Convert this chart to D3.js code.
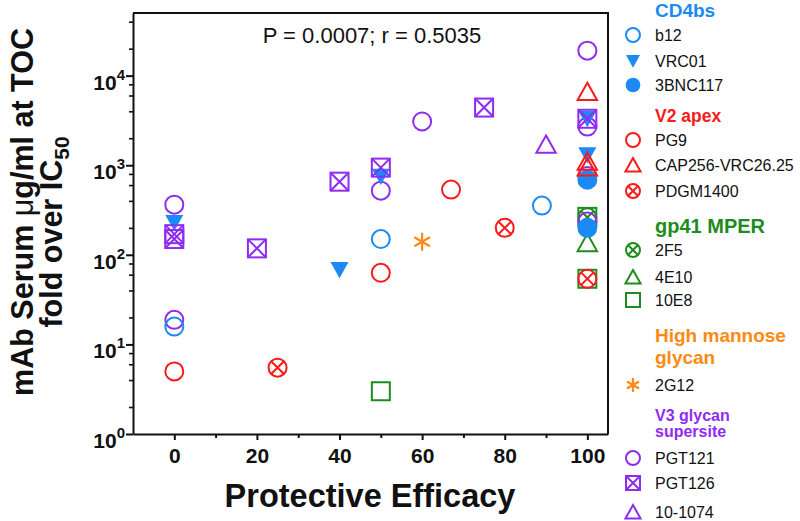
<!DOCTYPE html>
<html>
<head>
<meta charset="utf-8">
<script src="https://cdn.jsdelivr.net/npm/d3@7"></script>
<style>
  html, body { margin: 0; padding: 0; background: #fff; }
  svg { display: block; font-family: "Liberation Sans", Arial, Helvetica, sans-serif; }
</style>
</head>
<body>
<svg id="chart" width="800" height="521"></svg>
<script>
// ---------- DATA ----------
const xTicks = [0, 20, 40, 60, 80, 100];
const xMinorTicks = [10, 30, 50, 70, 90];
const yTicks = [1, 10, 100, 1000, 10000];
const yMinorTicks = [2,4,6,8,20,40,60,80,200,400,600,800,2000,4000,6000,8000,20000,40000];

// [protective efficacy %, fold over IC50]
const b12      = [[0, 15.8], [50, 150], [89, 354]];
const VRC01    = [[0, 229], [40, 68], [50, 750], [100, 3300], [100, 1300]];
const BNC117   = [[100, 690], [100, 200]];
const PG9      = [[0, 5.0], [50, 63], [67, 535]];
const CAP256   = [[100, 6600], [100, 1100], [100, 950]];
const PDGM1400 = [[25, 5.5], [80, 200], [100, 54]];
const F5       = [[100, 262]];
const E10      = [[100, 136]];
const E8       = [[50, 3.0], [100, 265], [100, 54]];
const G12      = [[60, 140]];
const PGT121   = [[0, 363], [0, 18.8], [50, 520], [60, 3080], [100, 19000], [100, 2700], [100, 760], [100, 235]];
const PGT126   = [[0, 170], [0, 150], [20, 118], [40, 655], [50, 940], [75, 4400], [100, 3300]];
const A101074  = [[90, 1700]];

const groupNames = ["CD4bs", "V2 apex", "gp41 MPER", "High mannose glycan", "V3 glycan supersite"];
const antibodyNames = ["b12", "VRC01", "3BNC117", "PG9", "CAP256-VRC26.25", "PDGM1400",
                       "2F5", "4E10", "10E8", "2G12", "PGT121", "PGT126", "10-1074"];
const antibodyGroups = [0, 0, 0, 1, 1, 1, 2, 2, 2, 3, 4, 4, 4];
const antibodyData = [b12, VRC01, BNC117, PG9, CAP256, PDGM1400, F5, E10, E8, G12, PGT121, PGT126, A101074];

// ---------- STYLES ----------
const groupColors = ["#1b8af5", "#fa1a1a", "#1d8c1d", "#ff8a12", "#8f2bf2"];
const antibodyShapes = ["circle", "triDown", "dot", "circle", "triUp", "circleX",
                        "circleX", "triUp", "square", "asterisk", "circle", "squareX", "triUp"];
const drawOrder = [8, 6, 7, 10, 1, 2, 0, 11, 4, 3, 5, 9, 12];

const svg = d3.select("#chart");
const plot = { left: 133, right: 608, top: 13, bottom: 434 };

const x = d3.scaleLinear().domain([-10, 105]).range([plot.left, plot.right]);
const y = d3.scaleLog().domain([1, 50000]).range([plot.bottom, plot.top]);

function drawMarker(g, shape, s, color) {
  const sw = 2;
  if (shape === "circle") {
    g.append("circle").attr("r", s).attr("fill", "none").attr("stroke", color).attr("stroke-width", sw);
  } else if (shape === "dot") {
    g.append("circle").attr("r", s * 1.05).attr("fill", color);
  } else if (shape === "circleX") {
    g.append("circle").attr("r", s).attr("fill", "none").attr("stroke", color).attr("stroke-width", sw);
    const k = s * 0.68;
    g.append("path").attr("d", `M${-k},${-k}L${k},${k}M${-k},${k}L${k},${-k}`)
      .attr("stroke", color).attr("stroke-width", sw).attr("fill", "none");
  } else if (shape === "square") {
    g.append("rect").attr("x", -s).attr("y", -s).attr("width", 2 * s).attr("height", 2 * s)
      .attr("fill", "none").attr("stroke", color).attr("stroke-width", sw);
  } else if (shape === "squareX") {
    g.append("rect").attr("x", -s).attr("y", -s).attr("width", 2 * s).attr("height", 2 * s)
      .attr("fill", "none").attr("stroke", color).attr("stroke-width", sw);
    g.append("path").attr("d", `M${-s},${-s}L${s},${s}M${-s},${s}L${s},${-s}`)
      .attr("stroke", color).attr("stroke-width", sw).attr("fill", "none");
  } else if (shape === "triUp") {
    const w = s * 1.08, h = s;
    g.append("path").attr("d", `M0,${-h}L${w},${h * 0.92}L${-w},${h * 0.92}Z`)
      .attr("fill", "none").attr("stroke", color).attr("stroke-width", sw).attr("stroke-linejoin", "miter");
  } else if (shape === "triDown") {
    const w = s * 1.0, h = s * 0.95;
    g.append("path").attr("d", `M${-w},${-h * 0.9}L${w},${-h * 0.9}L0,${h}Z`).attr("fill", color);
  } else if (shape === "asterisk") {
    const r = s * 1.0;
    let d = "";
    [90, 30, 150].forEach(a => {
      const rad = a * Math.PI / 180;
      const dx = r * Math.cos(rad), dy = r * Math.sin(rad);
      d += `M${-dx},${-dy}L${dx},${dy}`;
    });
    g.append("path").attr("d", d).attr("stroke", color).attr("stroke-width", 2.2).attr("fill", "none");
  }
}

// ---------- AXES ----------
const axisG = svg.append("g");

axisG.append("path")
  .attr("d", `M${plot.left},${plot.top}H${plot.right}V${plot.bottom}`)
  .attr("fill", "none").attr("stroke", "#111").attr("stroke-width", 2);

// X axis
const xAxis = d3.axisBottom(x).tickValues(xTicks).tickSize(6).tickSizeOuter(0).tickPadding(8);
const gx = axisG.append("g").attr("transform", `translate(0,${plot.bottom})`).call(xAxis);
gx.select(".domain").attr("stroke", "#111").attr("stroke-width", 2);
gx.selectAll(".tick line").attr("stroke", "#111").attr("stroke-width", 2);
gx.selectAll(".tick text").attr("font-size", 21).attr("font-weight", "bold").attr("fill", "#111")
  .attr("font-family", "Liberation Sans, Arial, sans-serif");
const gxm = axisG.append("g").attr("transform", `translate(0,${plot.bottom})`)
  .call(d3.axisBottom(x).tickValues(xMinorTicks).tickSize(4).tickFormat(() => ""));
gxm.select(".domain").remove();
gxm.selectAll(".tick line").attr("stroke", "#111").attr("stroke-width", 2);

// Y axis
const yAxis = d3.axisLeft(y).tickValues(yTicks).tickSize(7).tickSizeOuter(0).tickPadding(1).tickFormat(() => "");
const gy = axisG.append("g").attr("transform", `translate(${plot.left},0)`).call(yAxis);
gy.select(".domain").attr("stroke", "#111").attr("stroke-width", 2);
gy.selectAll(".tick line").attr("stroke", "#111").attr("stroke-width", 2);
gy.selectAll(".tick text").each(function(d) {
  const t = d3.select(this);
  t.attr("dy", null).attr("y", 13.5).attr("font-weight", "bold").attr("fill", "#111")
   .attr("font-family", "Liberation Sans, Arial, sans-serif");
  t.append("tspan").attr("font-size", 21).text("10");
  t.append("tspan").attr("font-size", 15).attr("dy", -10).text(Math.round(Math.log10(d)));
});
const gym = axisG.append("g").attr("transform", `translate(${plot.left},0)`)
  .call(d3.axisLeft(y).tickValues(yMinorTicks).tickSize(4).tickFormat(() => ""));
gym.select(".domain").remove();
gym.selectAll(".tick line").attr("stroke", "#111").attr("stroke-width", 1.6);

// Axis titles
svg.append("text")
  .attr("x", 370).attr("y", 507)
  .attr("text-anchor", "middle").attr("font-size", 32.5).attr("font-weight", "bold").attr("fill", "#111")
  .text("Protective Efficacy");

const yl = svg.append("g").attr("transform", "translate(33,212) rotate(-90)");
const yl1 = yl.append("text").attr("text-anchor", "middle").attr("font-size", 30.5)
  .attr("font-weight", "bold").attr("fill", "#111");
yl1.append("tspan").text("mAb Serum ");
yl1.append("tspan").attr("font-weight", "normal").text("μ");
yl1.append("tspan").text("g/ml at TOC");
const yl2 = svg.append("g").attr("transform", "translate(62,232) rotate(-90)")
  .append("text").attr("text-anchor", "middle").attr("font-size", 30.5)
  .attr("font-weight", "bold").attr("fill", "#111");
yl2.append("tspan").text("fold over IC");
yl2.append("tspan").attr("font-size", 21).attr("dy", 7).text("50");

// Stat text
svg.append("text").attr("x", 372).attr("y", 43).attr("text-anchor", "middle")
  .attr("font-size", 22).attr("fill", "#111").text("P = 0.0007; r = 0.5035");

// ---------- POINTS ----------
const pts = svg.append("g");
drawOrder.forEach(i => {
  const color = groupColors[antibodyGroups[i]];
  const shape = antibodyShapes[i];
  antibodyData[i].forEach(([ex, fv]) => {
    const g = pts.append("g").attr("transform", `translate(${x(ex)},${y(fv)})`);
    drawMarker(g, shape, shape === "dot" ? 9.5 : 9, color);
  });
});

// ---------- LEGEND ----------
const leg = svg.append("g");
const legMarkerX = 633, legTextX = 655;
const groupTitleLines = [["CD4bs"], ["V2 apex"], ["gp41 MPER"], ["High mannose", "glycan"], ["V3 glycan", "supersite"]];
const groupTitleSizes = [19, 17.5, 20, 19, 16];
const groupTitleBaselines = [[17], [122], [233], [342], [421, 437]];
const groupTitleBaselines2 = [[17], [122], [233], [342, 364], [421, 437]];
const itemCenters = [35, 61, 85, 140, 165, 191, 250, 277, 300, 385, 458, 483, 512];

groupTitleLines.forEach((lines, gi) => {
  lines.forEach((ln, li) => {
    leg.append("text").attr("x", legTextX).attr("y", groupTitleBaselines2[gi][li])
      .attr("font-size", groupTitleSizes[gi]).attr("font-weight", "bold")
      .attr("fill", groupColors[gi]).text(ln);
  });
});
antibodyNames.forEach((name, i) => {
  const color = groupColors[antibodyGroups[i]];
  const cy = itemCenters[i];
  const g = leg.append("g").attr("transform", `translate(${legMarkerX},${cy})`);
  drawMarker(g, antibodyShapes[i], 7, color);
  leg.append("text").attr("x", legTextX).attr("y", cy + 5.5)
    .attr("font-size", 16).attr("fill", "#111").text(name);
});
</script>
</body>
</html>
